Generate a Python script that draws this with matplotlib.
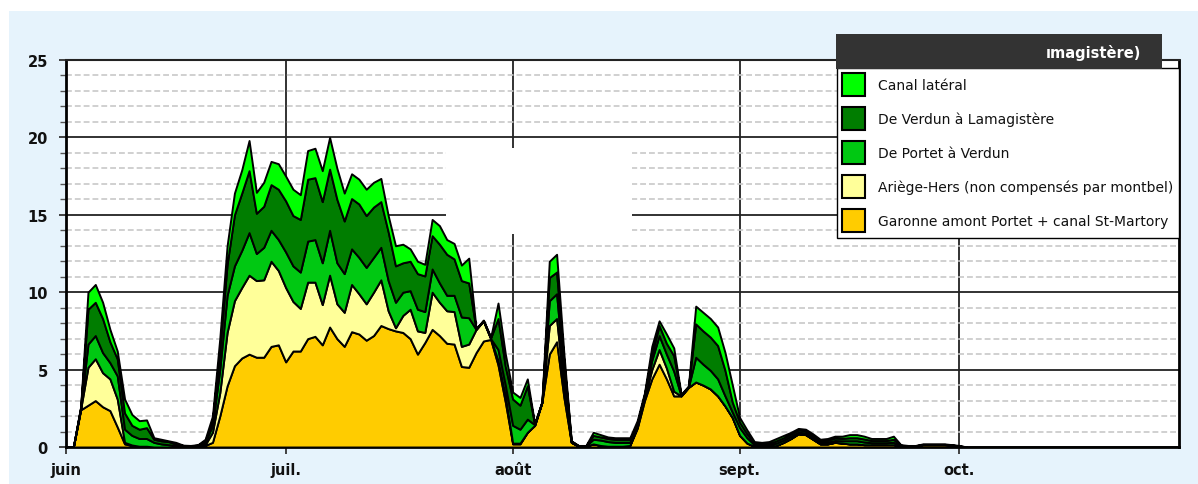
import numpy as np
import matplotlib
matplotlib.use('Agg')
import matplotlib.pyplot as plt
from matplotlib.patches import Patch, Rectangle
from matplotlib.ticker import MultipleLocator

# valeurs journalieres (jour 0 = 1er juin), couche par couche, de bas en haut
garonne = [
    0, 0, 2.4, 2.7, 3.0, 2.6, 2.35, 1.3, 0.2, 0.1,
    0, 0, 0, 0, 0, 0, 0, 0, 0, 0.1,
    0.3, 2.0, 3.95, 5.25, 5.75, 6.0, 5.8, 5.8, 6.5, 6.6,
    5.5, 6.2, 6.2, 7.0, 7.15, 6.6, 7.75, 7.0, 6.5, 7.45,
    7.3, 6.9, 7.2, 7.85, 7.65, 7.5, 7.4, 7.0, 6.0, 6.75,
    7.6, 7.2, 6.7, 6.65, 5.2, 5.15, 6.1, 6.85, 6.95, 5.3,
    2.9, 0.2, 0.2, 0.95, 1.4, 2.9, 6.0, 6.8, 3.2, 0.3,
    0.05, 0.05, 0.2, 0.1, 0.05, 0.05, 0.05, 0.1, 1.2, 3.0,
    4.4, 5.35, 4.4, 3.3, 3.3, 3.85, 4.2, 4.0, 3.75, 3.3,
    2.65, 1.9, 0.75, 0.25, 0.05, 0, 0.02, 0.1, 0.3, 0.55,
    0.85, 0.8, 0.5, 0.2, 0.2, 0.3, 0.25, 0.2, 0.2, 0.15,
    0.15, 0.15, 0.15, 0.15, 0.05, 0, 0.05, 0.15, 0.15, 0.15,
    0.15, 0.12, 0.05, 0]

ariege = [
    0, 0, 0.05, 2.45, 2.7, 2.2, 2.05, 1.8, 0.1, 0.03,
    0.05, 0.05, 0, 0, 0, 0, 0, 0, 0.02, 0.05,
    0.65, 1.5, 3.45, 4.2, 4.55, 5.1, 4.95, 5.0, 5.5, 4.8,
    4.8, 3.2, 2.75, 3.65, 3.5, 2.6, 3.35, 2.25, 2.2, 3.05,
    2.6, 2.35, 2.8, 2.95, 1.15, 0.2, 1.1, 1.9, 1.5, 0.65,
    2.4, 2.15, 2.1, 2.1, 1.3, 1.5, 1.5, 1.3, 0.05, 0.3,
    0.4, 0.05, 0.05, 0, 0, 0, 1.85, 1.5, 0.6, 0,
    0, 0, 0, 0, 0, 0, 0, 0, 0.1, 0.2,
    0.6, 0.95, 0.7, 0.3, 0, 0, 0, 0, 0, 0,
    0, 0, 0, 0, 0, 0, 0, 0, 0, 0,
    0, 0, 0, 0, 0, 0, 0, 0, 0, 0,
    0, 0, 0, 0, 0, 0, 0, 0, 0, 0,
    0, 0, 0, 0]

portet_verdun = [
    0, 0, 0.05, 1.5, 1.5, 1.3, 1.05, 1.5, 0.85, 0.62,
    0.5, 0.5, 0.3, 0.2, 0.15, 0.1, 0.05, 0.05, 0.06, 0.15,
    0.45, 1.5, 2.4, 2.25, 2.4, 2.75, 1.75, 2.1, 2.0, 2.0,
    2.3, 2.3, 2.35, 2.65, 2.75, 2.7, 2.9, 2.65, 2.5, 2.3,
    2.35, 2.35, 2.25, 2.1, 1.95, 1.65, 1.5, 1.2, 1.4, 1.35,
    1.5, 1.25, 1.0, 1.05, 1.9, 1.7, 0, 0, 0, 0.7,
    0.7, 1.15, 0.9, 0.85, 0.05, 0, 1.6, 1.6, 0.8, 0.05,
    0.02, 0.02, 0.3, 0.35, 0.3, 0.25, 0.25, 0.2, 0.1, 0.1,
    0.6, 0.9, 0.9, 1.3, 0.02, 0.02, 1.6, 1.35, 1.2, 1.1,
    0.65, 0.35, 0.5, 0.35, 0.1, 0.1, 0.1, 0.15, 0.15, 0.15,
    0.1, 0.12, 0.12, 0.1, 0.12, 0.12, 0.15, 0.2, 0.2, 0.17,
    0.13, 0.13, 0.13, 0.15, 0.03, 0.02, 0.01, 0, 0, 0,
    0, 0, 0, 0]

verdun_lamagistere = [
    0, 0, 0.05, 2.25, 2.15, 2.2, 1.35, 1.1, 1.05, 0.65,
    0.6, 0.7, 0.2, 0.2, 0.2, 0.1, 0.05, 0.03, 0.04, 0.1,
    0.3, 1.3, 2.0, 3.3, 3.7, 4.0, 2.6, 2.65, 2.95, 3.25,
    3.3, 3.25, 3.4, 4.0, 4.0, 3.95, 3.95, 4.1, 3.4, 3.25,
    3.45, 3.35, 3.25, 2.95, 3.15, 2.35, 1.9, 1.9, 2.3, 2.3,
    2.15, 2.5, 2.65, 2.35, 2.35, 2.25, 0.02, 0.02, 0.05, 2.0,
    1.2, 1.7, 1.55, 2.15, 0.03, 0, 1.5, 1.4, 0.9, 0.03,
    0.01, 0.01, 0.25, 0.2, 0.2, 0.2, 0.2, 0.2, 0.1, 0.1,
    0.4, 0.65, 0.7, 1.0, 0.03, 0.03, 2.15, 2.15, 2.15, 2.15,
    1.65, 0.65, 0.35, 0.25, 0.1, 0.1, 0.1, 0.15, 0.15, 0.15,
    0.15, 0.13, 0.13, 0.12, 0.13, 0.16, 0.16, 0.2, 0.2, 0.2,
    0.14, 0.14, 0.14, 0.2, 0.04, 0.03, 0.02, 0.02, 0.02, 0.02,
    0.02, 0.01, 0.02, 0]

canal_lateral = [
    0, 0, 0.05, 1.1, 1.15, 1.05, 0.8, 0.5, 0.9, 0.7,
    0.55, 0.5, 0.1, 0.1, 0.05, 0.1, 0.02, 0.02, 0.03, 0.1,
    0.3, 0.7, 1.2, 1.4, 1.5, 1.95, 1.35, 1.55, 1.5, 1.65,
    1.6, 1.7, 1.6, 1.85, 1.9, 2.0, 2.05, 2.0, 1.8, 1.6,
    1.6, 1.7, 1.6, 1.5, 1.05, 1.3, 1.2, 0.8, 0.8, 0.75,
    1.05, 1.2, 0.95, 1.0, 1.0, 1.6, 0.03, 0.03, 0.05, 1.0,
    0.8, 0.45, 0.5, 0.45, 0.02, 0.05, 1.05, 1.15, 0.5, 0.02,
    0.02, 0.02, 0.2, 0.15, 0.1, 0.1, 0.1, 0.1, 0.2, 0.1,
    0.5, 0.3, 0.6, 0.5, 0.05, 0.05, 1.15, 1.2, 1.2, 1.2,
    1.15, 1.1, 0.3, 0.25, 0.1, 0.1, 0.13, 0.15, 0.15, 0.1,
    0.1, 0.1, 0.1, 0.08, 0.1, 0.12, 0.14, 0.2, 0.2, 0.18,
    0.13, 0.13, 0.13, 0.2, 0.03, 0.05, 0.02, 0.03, 0.03, 0.03,
    0.03, 0.02, 0.03, 0]

month_pos = [0, 30, 61, 92, 122]
month_labels = ['juin', 'juil.', 'août', 'sept.', 'oct.']

labels = ['Garonne amont Portet + canal St-Martory',
          'Ariège-Hers (non compensés par montbel)',
          'De Portet à Verdun',
          'De Verdun à Lamagistère',
          'Canal latéral']
colors = ['#FFCC00', '#FFFF99', '#00C812', '#007D00', '#00FF00']

plt.rcParams['font.family'] = 'DejaVu Sans'

W, H = 1198, 485
fig = plt.figure(figsize=(W / 100, H / 100), dpi=100, facecolor='white')

# fond bleu clair (petite marge blanche en haut et a gauche)
fig.add_artist(Rectangle((9 / W, 0), 1 - 9 / W, (H - 12) / H,
                         transform=fig.transFigure, facecolor='#E6F3FC',
                         edgecolor='none', zorder=-10))

ax = fig.add_axes([66 / W, (H - 448) / H, 1113 / W, 387 / H])
ax.set_facecolor('white')

days = np.arange(len(garonne))
ax.stackplot(days, garonne, ariege, portet_verdun, verdun_lamagistere, canal_lateral,
             colors=colors, edgecolor='black', linewidth=1.4, zorder=3)

ax.set_xlim(0, 152)
ax.set_ylim(0, 25)

ax.set_xticks(month_pos)
ax.set_xticklabels(month_labels)
ax.yaxis.set_major_locator(MultipleLocator(5))
ax.yaxis.set_minor_locator(MultipleLocator(1))

ax.set_axisbelow(True)
ax.grid(which='major', axis='both', color='#222222', linewidth=1.3, linestyle='-')
ax.grid(which='minor', axis='y', color='#c8c8c8', linewidth=1.2, linestyle=(0, (3.5, 1.8)))

ax.tick_params(axis='both', which='major', direction='out', length=5, width=1.3,
               labelsize=10.5, color='#333333')
ax.tick_params(axis='y', which='minor', direction='out', length=4, width=1, color='#555555')
ax.tick_params(axis='y', which='major', pad=8)
ax.tick_params(axis='x', which='major', pad=6)
for lab in ax.get_xticklabels() + ax.get_yticklabels():
    lab.set_fontweight('bold')
    lab.set_color('#111111')

for side in ['left', 'bottom', 'right']:
    ax.spines[side].set_linewidth(2)
    ax.spines[side].set_color('black')
ax.spines['top'].set_linewidth(1.5)
ax.spines['top'].set_color('#222222')

# zone blanche masquant la grille au milieu
ax.add_artist(Rectangle((446 / W, (H - 235) / H), 186 / W, 86 / H,
                        transform=fig.transFigure, facecolor='white',
                        edgecolor='none', zorder=1.5))

# legende
handles = [Patch(facecolor=c, edgecolor='black', linewidth=1.5) for c in colors]
leg = ax.legend(handles[::-1], labels[::-1], loc='upper right',
                bbox_to_anchor=(1.0, 0.979), borderaxespad=0, fontsize=10,
                handlelength=1.65, handleheight=2.17, labelspacing=0.79,
                handletextpad=0.95, borderpad=0.38, fancybox=False, framealpha=1,
                edgecolor='black', facecolor='white')
leg.get_frame().set_linewidth(1.0)
leg.set_zorder(10)
for t in leg.get_texts():
    t.set_color('#111111')

# bandeau de titre tronque
fig.add_artist(Rectangle((836 / W, (H - 69.5) / H), 326 / W, 34.5 / H,
                         transform=fig.transFigure, facecolor='#333333',
                         edgecolor='none', zorder=5))
fig.text(1141 / W, (H - 53) / H, 'ımagistère)', color='white', fontsize=10.5,
         fontweight='bold', ha='right', va='center', zorder=6)

fig.savefig('out.png', dpi=100, facecolor=fig.get_facecolor())
